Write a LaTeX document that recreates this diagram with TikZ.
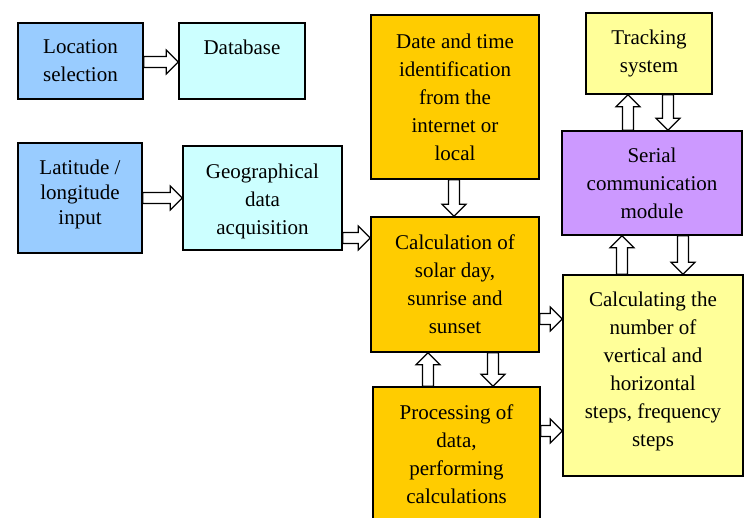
\documentclass[tikz,border=0pt]{standalone}
\usepackage{fontspec}
\setmainfont{Liberation Serif}
\usetikzlibrary{calc}

\definecolor{boxblue}{HTML}{99CCFF}
\definecolor{boxcyan}{HTML}{CCFFFF}
\definecolor{boxorange}{HTML}{FFCC00}
\definecolor{boxyellow}{HTML}{FFFF99}
\definecolor{boxviolet}{HTML}{CC99FF}

\tikzset{
  block/.style={draw=black, line width=1.6pt, rectangle, inner sep=0pt,
    align=center, font=\fontsize{21}{28}\selectfont},
  arrowline/.style={draw=black, fill=white, line width=1.2pt, line join=miter},
}

% Hollow block arrow from #1 to #2 (shaft half width 5.5pt, head half width 12pt, head length 12pt)
\newcommand\hollowarrow[2]{%
  \coordinate (ha-base) at ($(#2)!12pt!(#1)$);
  \path[arrowline]
    ($(#1)!5.5pt!90:(#2)$) -- ($(ha-base)!5.5pt!90:(#2)$) --
    ($(ha-base)!12pt!90:(#2)$) -- (#2) --
    ($(ha-base)!12pt!-90:(#2)$) -- ($(ha-base)!5.5pt!-90:(#2)$) --
    ($(#1)!5.5pt!-90:(#2)$) -- cycle;
}

\begin{document}
\begin{tikzpicture}[x=1pt, y=-1pt]
  \useasboundingbox (0,0) rectangle (745,518);
  \clip (0,0) rectangle (745,518);

  % boxes
  \node[block, fill=boxblue, minimum width=125pt, minimum height=76pt] (loc) at (80.5,61) {Location\\selection};
  \node[block, fill=boxcyan, minimum width=126pt, minimum height=76pt] (db) at (242,61) {Database\\\mbox{}};
  \node[block, fill=boxblue, minimum width=124pt, minimum height=110pt,
        font=\fontsize{21}{25}\selectfont] (lat) at (80,198) {Latitude /\\longitude\\input\\[-13pt]\mbox{}};
  \node[block, fill=boxcyan, minimum width=159pt, minimum height=104pt] (geo) at (262.5,198) {\mbox{}\\[-6pt]Geographical\\data\\acquisition};
  \node[block, fill=boxorange, minimum width=168pt, minimum height=164pt] (date) at (455,97) {Date and time\\identification\\from the\\internet or\\local};
  \node[block, fill=boxorange, minimum width=168pt, minimum height=135pt] (calc) at (455,284.5) {Calculation of\\solar day,\\sunrise and\\sunset};
  \node[block, fill=boxorange, minimum width=167pt, minimum height=134pt] (proc) at (456.5,454) {Processing of\\data,\\performing\\calculations};
  \node[block, fill=boxyellow, minimum width=126pt, minimum height=81pt] (track) at (649,53.5) {Tracking\\system};
  \node[block, fill=boxviolet, minimum width=180pt, minimum height=104pt] (serial) at (652,183) {Serial\\communication\\module};
  \node[block, fill=boxyellow, minimum width=180pt, minimum height=201pt] (steps) at (653,375.5) {Calculating the\\number of\\vertical and\\horizontal\\steps, frequency\\steps\\[-16pt]\mbox{}};

  % connectors
  \hollowarrow{loc.east |- 0,62}{db.west |- 0,62}
  \hollowarrow{lat.east |- 0,198}{geo.west |- 0,198}
  \hollowarrow{geo.east |- 0,238}{calc.west |- 0,238}
  \hollowarrow{date.south -| 454,0}{calc.north -| 454,0}
  \hollowarrow{serial.north -| 628,0}{track.south -| 628,0}
  \hollowarrow{track.south -| 668,0}{serial.north -| 668,0}
  \hollowarrow{steps.north -| 622,0}{serial.south -| 622,0}
  \hollowarrow{serial.south -| 683,0}{steps.north -| 683,0}
  \hollowarrow{calc.east |- 0,319}{steps.west |- 0,319}
  \hollowarrow{proc.north -| 428,0}{calc.south -| 428,0}
  \hollowarrow{calc.south -| 493,0}{proc.north -| 493,0}
  \hollowarrow{proc.east |- 0,431}{steps.west |- 0,431}
\end{tikzpicture}
\end{document}
